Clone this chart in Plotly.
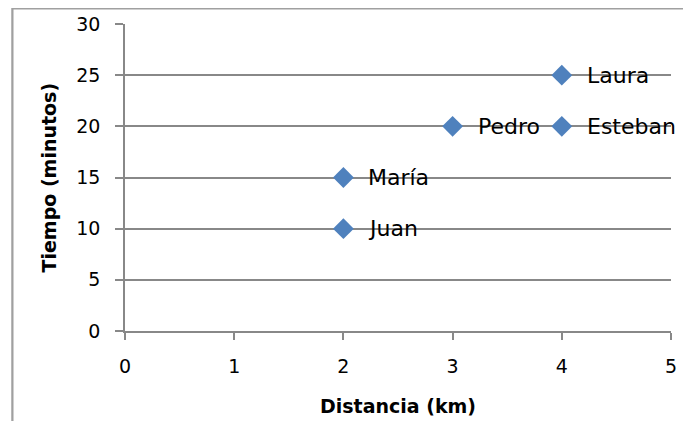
import plotly.graph_objects as go

# Runners: distance covered and time taken
nombres = ["Juan", "María", "Pedro", "Laura", "Esteban"]
distancia_km = [2, 2, 3, 4, 4]
tiempo_min = [10, 15, 20, 25, 20]

x_ticks = [0, 1, 2, 3, 4, 5]
y_ticks = [0, 5, 10, 15, 20, 25, 30]

FONT = "DejaVu Sans"
TICK_FS = 19
LABEL_FS = 22
TITLE_FS = 19
AXIS_GRAY = "#888888"
FRAME_GRAY = "#a0a0a0"

W, H = 683, 421
L, R, T, B = 125, 12, 24, 90
PW, PH = W - L - R, H - T - B

fig = go.Figure()
fig.add_trace(go.Scatter(
    x=distancia_km,
    y=tiempo_min,
    mode="markers",
    marker=dict(symbol="diamond", size=16, color="#4f81bd"),
    hoverinfo="skip",
    showlegend=False,
))

# Name labels to the right of each point
for n, xv, yv in zip(nombres, distancia_km, tiempo_min):
    fig.add_annotation(
        x=xv, y=yv, text=n, showarrow=False,
        xanchor="left", yanchor="middle", xshift=23,
        font=dict(family=FONT, size=LABEL_FS, color="#000000"),
    )

# Axis titles
fig.add_annotation(
    xref="paper", yref="paper", x=(48 - L) / PW, y=0.5,
    text="<b>Tiempo (minutos)</b>", textangle=-90, showarrow=False,
    xanchor="center", yanchor="middle",
    font=dict(family=FONT, size=TITLE_FS, color="#000000"),
)
fig.add_annotation(
    xref="paper", yref="paper", x=0.5, y=(T + PH - 406) / PH,
    text="<b>Distancia (km)</b>", showarrow=False,
    xanchor="center", yanchor="middle",
    font=dict(family=FONT, size=TITLE_FS, color="#000000"),
)

# Outer chart frame: a bordered box whose top-left corner sits inside the page
frame_x0 = (12 - L) / PW
frame_top = (T + PH - 8) / PH
fig.add_annotation(
    xref="paper", yref="paper", x=frame_x0, y=frame_top,
    xanchor="left", yanchor="top", text=" ", showarrow=False,
    width=W + 40, height=H + 40, borderpad=0,
    bordercolor=FRAME_GRAY, borderwidth=1.5,
)
fig.add_shape(
    type="line", xref="paper", yref="paper",
    x0=frame_x0, x1=frame_x0, y0=frame_top, y1=-B / PH,
    line=dict(color=FRAME_GRAY, width=1.5),
)

fig.update_layout(
    width=W, height=H,
    margin=dict(l=L, r=R, t=T, b=B, autoexpand=False),
    paper_bgcolor="white", plot_bgcolor="white",
    font=dict(family=FONT, size=TICK_FS, color="#000000"),
    xaxis=dict(
        range=[0, 5], tickvals=x_ticks, ticktext=[str(v) for v in x_ticks],
        showgrid=False, zeroline=False, automargin=False,
        showline=True, linecolor=AXIS_GRAY, linewidth=1.5,
        ticks="outside", ticklen=7, tickcolor=AXIS_GRAY, tickwidth=1.5,
        ticklabelstandoff=10,
        tickfont=dict(family=FONT, size=TICK_FS),
        fixedrange=True,
    ),
    yaxis=dict(
        range=[0, 30], tickvals=y_ticks, ticktext=[str(v) for v in y_ticks],
        showgrid=True, gridcolor=AXIS_GRAY, gridwidth=1.5, zeroline=False,
        automargin=False,
        showline=True, linecolor=AXIS_GRAY, linewidth=1.5,
        ticks="outside", ticklen=8, tickcolor=AXIS_GRAY, tickwidth=1.5,
        ticklabelstandoff=11,
        tickfont=dict(family=FONT, size=TICK_FS),
        fixedrange=True,
    ),
)

fig.write_html("out.html", config={"displayModeBar": False})
